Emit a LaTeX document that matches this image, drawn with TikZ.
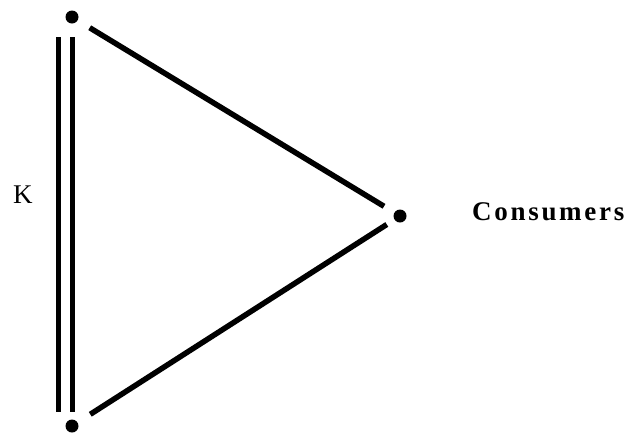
\documentclass[tikz,border=0pt]{standalone}
\usepackage{fontspec}
\setmainfont{Liberation Serif}
\newfontfamily\lblfont[LetterSpace=10]{Liberation Serif}
\begin{document}
\begin{tikzpicture}[x=1pt,y=-1pt,
  dotnode/.style={circle,fill=black,inner sep=0pt,minimum size=13pt},
  edge/.style={line width=5.5pt},
  label/.style={inner sep=0pt,font=\fontsize{27}{30}\selectfont}]
\useasboundingbox (0,0) rectangle (631,437);
\node[dotnode] (top) at (72,17) {};
\node[dotnode] (bot) at (72,426) {};
\node[dotnode] (right) at (400,216) {};
\coordinate (ktop) at (65.5,37);
\coordinate (kbot) at (65.5,412);
\draw[line width=5.5pt,double,double distance=8.5pt] (ktop) -- (kbot);
\draw[edge,shorten <=14pt,shorten >=12pt] (top) -- (right);
\draw[edge,shorten <=15pt,shorten >=9pt] (bot) -- (right);
\node[label,anchor=base west,font=\fontsize{27}{30}\selectfont] (k) at (13,203) {K};
\node[label,anchor=base west] (cons) at (472,220) {\lblfont\bfseries Consumers};
\end{tikzpicture}
\end{document}
